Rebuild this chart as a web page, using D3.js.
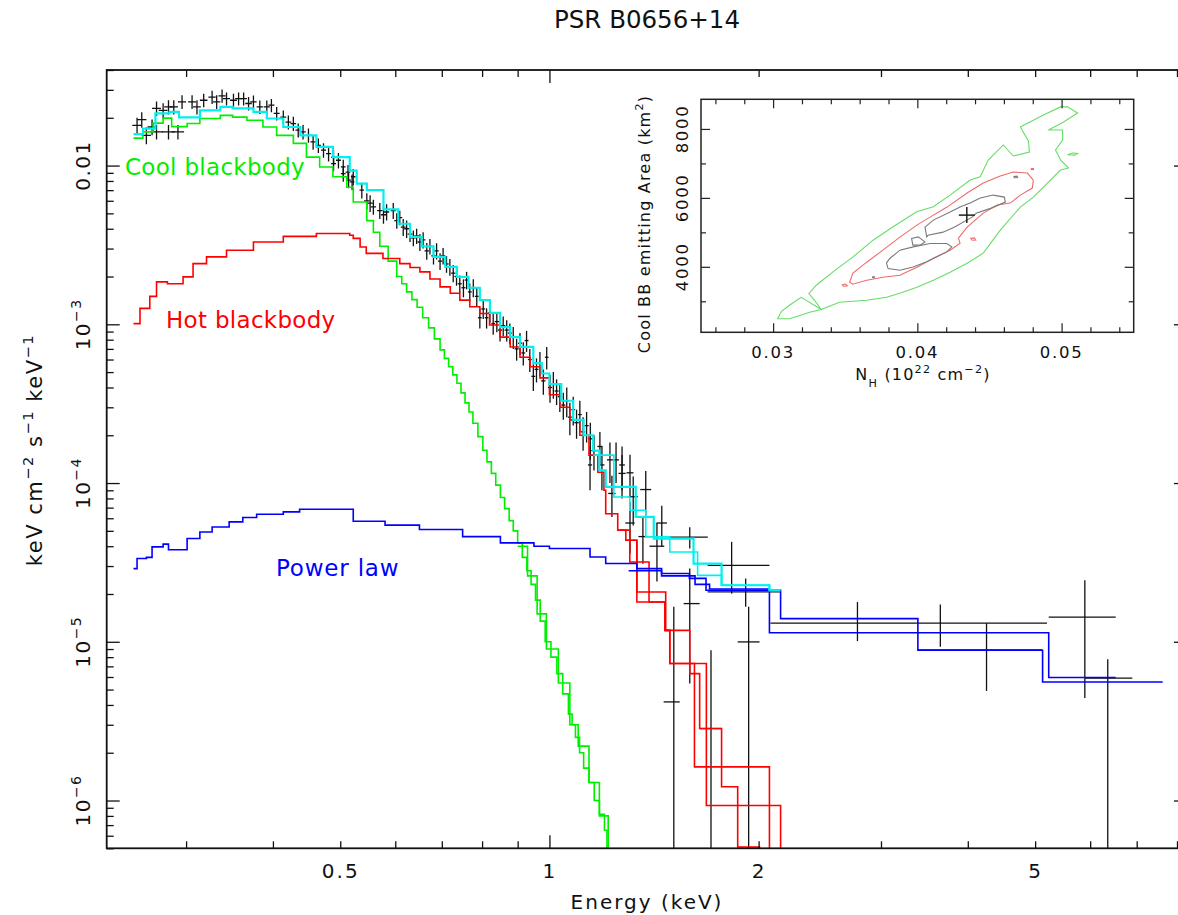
<!DOCTYPE html>
<html>
<head>
<meta charset="utf-8">
<script src="https://cdn.jsdelivr.net/npm/d3@7"></script>
<style>
  body { margin: 0; background: #fff; }
  svg { display: block; }
  text { font-family: "DejaVu Sans", sans-serif; fill: #111; }
</style>
</head>
<body>
<svg id="chart" width="1178" height="915"></svg>
<script>
// ---- spectrum: [energy keV, half width keV, flux, flux error]
const spectrum = [
  [0.255,0.004,0.0179,0.0021],[0.259,0.004,0.0195,0.0022],[0.263,0.004,0.0155,0.0019],
  [0.268,0.004,0.0175,0.0020],[0.272,0.004,0.0229,0.0024],[0.272,0.006,0.0163,0.0017],
  [0.278,0.004,0.0223,0.0024],[0.283,0.004,0.0234,0.0024],[0.283,0.006,0.0163,0.0017],
  [0.288,0.004,0.0234,0.0024],[0.292,0.006,0.0163,0.0017],[0.296,0.004,0.0252,0.0025],
  [0.306,0.004,0.0252,0.0025],[0.311,0.004,0.0234,0.0024],[0.318,0.004,0.0258,0.0025],
  [0.327,0.004,0.0270,0.0026],[0.332,0.004,0.0252,0.0025],[0.338,0.004,0.0275,0.0026],
  [0.343,0.004,0.0264,0.0025],[0.351,0.004,0.0258,0.0025],[0.357,0.004,0.0264,0.0025],
  [0.363,0.004,0.0264,0.0025],[0.369,0.004,0.0246,0.0024],[0.375,0.004,0.0252,0.0024],
  [0.383,0.004,0.0234,0.0023],[0.392,0.004,0.0234,0.0023],[0.398,0.004,0.0240,0.0023],
  [0.405,0.004,0.0213,0.0021],[0.414,0.004,0.0202,0.0020],[0.421,0.004,0.0188,0.0019],
  [0.428,0.004,0.0184,0.0019],[0.435,0.004,0.0167,0.0017],[0.442,0.004,0.0163,0.0017],
  [0.450,0.004,0.0155,0.0016],[0.457,0.004,0.0141,0.0015],[0.465,0.004,0.0134,0.0014],
  [0.473,0.004,0.0125,0.0013],[0.481,0.004,0.0119,0.0013],[0.489,0.004,0.0113,0.0012],
  [0.489,0.004,0.0103,0.0011],[0.497,0.004,0.0108,0.0012],[0.505,0.004,0.0098,0.0011],
  [0.505,0.004,0.0089,0.0010],[0.513,0.004,0.0091,0.0010],[0.514,0.004,0.0081,0.0009],
  [0.520,0.004,0.0079,0.0009],[0.522,0.004,0.0085,0.0010],[0.537,0.004,0.0070,0.0008],
  [0.546,0.005,0.0060,0.0007],[0.552,0.005,0.0058,0.0007],[0.558,0.005,0.0055,0.0006],
  [0.570,0.005,0.0052,0.0006],[0.577,0.005,0.0049,0.0006],[0.583,0.005,0.0051,0.0006],
  [0.596,0.005,0.0052,0.0006],[0.603,0.005,0.0045,0.0005],[0.609,0.005,0.0047,0.0005],
  [0.616,0.005,0.0041,0.0005],[0.623,0.005,0.0040,0.0005],[0.630,0.005,0.0037,0.0004],
  [0.637,0.005,0.0035,0.0004],[0.644,0.005,0.0036,0.0004],[0.651,0.005,0.0033,0.0004],
  [0.658,0.005,0.0034,0.0004],[0.666,0.005,0.0029,0.00035],[0.673,0.005,0.0031,0.00035],
  [0.681,0.005,0.0027,0.00032],[0.688,0.005,0.0029,0.00034],[0.696,0.005,0.0025,0.00030],
  [0.703,0.005,0.0027,0.00032],[0.711,0.005,0.0024,0.00029],[0.719,0.005,0.0023,0.00028],
  [0.727,0.005,0.0021,0.00026],[0.735,0.005,0.0020,0.00025],[0.743,0.005,0.0018,0.00023],
  [0.752,0.005,0.0017,0.00022],[0.760,0.005,0.0019,0.00024],[0.768,0.005,0.0016,0.00021],
  [0.777,0.005,0.0017,0.00022],[0.786,0.005,0.0015,0.00020],[0.794,0.005,0.0011,0.00016],
  [0.803,0.005,0.00125,0.00017],[0.812,0.005,0.0011,0.00016],[0.821,0.005,0.00118,0.00016],
  [0.830,0.005,0.00101,0.00015],[0.840,0.006,0.00104,0.00015],[0.849,0.006,0.00092,0.00014],
  [0.858,0.006,0.00098,0.00014],[0.868,0.006,0.00092,0.00014],[0.877,0.006,0.00088,0.00013],
  [0.887,0.006,0.00083,0.00013],[0.897,0.006,0.00070,0.00011],[0.907,0.006,0.00076,0.00012],
  [0.917,0.006,0.00066,0.00011],[0.927,0.006,0.00079,0.00012],[0.937,0.006,0.00060,0.00010],
  [0.948,0.006,0.00047,0.00009],[0.958,0.006,0.00052,0.00009],[0.969,0.006,0.00057,0.00010],
  [0.980,0.007,0.00044,0.00008],[0.991,0.006,0.00062,0.00010],[1.002,0.007,0.00040,0.00008],
  [1.013,0.007,0.00042,0.00008],[1.024,0.007,0.00038,0.00007],[1.035,0.007,0.00035,0.00007],
  [1.047,0.007,0.00031,0.00006],[1.059,0.007,0.00033,0.00007],[1.070,0.007,0.00026,0.00006],
  [1.082,0.007,0.00029,0.00006],[1.094,0.008,0.00024,0.00005],[1.106,0.007,0.00027,0.00006],
  [1.118,0.008,0.00021,0.00005],[1.131,0.008,0.00023,0.00005],[1.144,0.008,0.00013,0.00004],
  [1.145,0.008,0.00019,0.00005],[1.159,0.010,0.00016,0.00004],[1.182,0.010,0.00017,0.00004],
  [1.190,0.010,0.00013,0.00004],[1.222,0.012,0.00014,0.00004],[1.230,0.015,0.000086,0.000025],
  [1.247,0.012,0.00014,0.00004],[1.272,0.012,0.00013,0.00004],[1.272,0.015,0.000115,0.000035],
  [1.306,0.015,0.000116,0.000035],[1.306,0.020,0.000056,0.000020],[1.320,0.020,0.000082,0.000028],
  [1.363,0.020,0.000046,0.000015],[1.376,0.025,0.000091,0.000028],[1.428,0.035,0.000040,0.000016],
  [1.451,0.025,0.000056,0.000016]
];

// sparse hard-band bins: [energy, e low, e high, flux, flux low, flux high]  (0 = runs off the axis)
const hardBand = [
  [1.51, 1.46, 1.54, 4.18e-6, 0, 1.66e-5],
  [1.592, 1.49, 1.69, 4.57e-5, 3.87e-5, 5.26e-5],
  [1.592, 1.56, 1.645, 1.74e-5, 5.46e-6, 2.89e-5],
  [1.708, 1.645, 1.769, 2.84e-6, 0, 8.85e-6],
  [1.829, 1.689, 2.073, 3.03e-5, 2.01e-5, 4.26e-5],
  [1.916, 1.689, 2.152, 2.06e-5, 1.66e-5, 2.5e-5],
  [1.935, 1.866, 2.006, 9.98e-6, 0, 1.66e-5],
  [2.775, 2.08, 3.38, 1.31e-5, 1.01e-5, 1.78e-5],
  [3.652, 3.38, 5.20, 1.31e-5, 9.3e-6, 1.72e-5],
  [4.256, 3.39, 5.12, 8.9e-6, 4.9e-6, 1.31e-5],
  [5.895, 5.23, 6.53, 1.43e-5, 4.43e-6, 2.44e-5],
  [6.36, 5.9, 6.9, 5.9e-6, 0, 7.76e-6]
];

// model components, histogram steps: [bin start keV, flux]
const coolA = [[0.252,0.0149],[0.260,0.0163],[0.269,0.0185],[0.278,0.0199],[0.286,0.0176],[0.301,0.0184],
  [0.314,0.0198],[0.336,0.0207],[0.350,0.0202],[0.367,0.0193],[0.387,0.0175],[0.405,0.0155],[0.428,0.0138],
  [0.447,0.0113],[0.467,0.0098],[0.488,0.0085],[0.511,0.0073],[0.522,0.0059],[0.546,0.0045],[0.558,0.0038],
  [0.570,0.0031],[0.586,0.0025],[0.603,0.0020],[0.613,0.0018],[0.623,0.0016],[0.634,0.00143],[0.645,0.00128],
  [0.657,0.00110],[0.670,0.00095],[0.683,0.00081],[0.696,0.00069],[0.706,0.00061],[0.716,0.00054],
  [0.726,0.00048],[0.736,0.000425],[0.746,0.00037],[0.756,0.00032],[0.766,0.00028],[0.776,0.000238],
  [0.789,0.000196],[0.802,0.000161],[0.813,0.000136],[0.825,0.000115],[0.837,0.000097],[0.85,0.000081],
  [0.862,0.000069],[0.875,0.000058],[0.887,0.000050],[0.90,0.000042],[0.914,0.000034],[0.928,0.000028],
  [0.941,0.000023],[0.955,0.0000183],[0.970,0.0000135],[0.986,0.0000100],[1.005,0.0000080],[1.025,0.0000063],
  [1.045,0.0000047],[1.065,0.0000035],[1.078,0.0000030],[1.09,0.0000025],[1.105,0.0000020],[1.12,0.0000016],
  [1.14,0.0000013],[1.16,0.0000010],[1.18,0.00000082],[1.20,0.00000065],[1.21,0.0000003]];
const coolB = [[0.90,0.000040],[0.93,0.000026],[0.96,0.000015],[0.99,0.0000090],[1.03,0.0000055],
  [1.07,0.0000030],[1.10,0.0000022],[1.14,0.0000013],[1.18,0.0000008],[1.215,0.0000003]];

const hotA = [[0.252,0.00101],[0.2575,0.00126],[0.266,0.00150],[0.272,0.00185],[0.282,0.00180],[0.297,0.00199],
  [0.307,0.00241],[0.321,0.00266],[0.343,0.00293],[0.375,0.0033],[0.414,0.00358],[0.462,0.00373],[0.516,0.00364],
  [0.522,0.00348],[0.534,0.00307],[0.545,0.0028],[0.576,0.0026],[0.609,0.00241],[0.630,0.00228],[0.651,0.00214],
  [0.673,0.00193],[0.696,0.00172],[0.72,0.00157],[0.743,0.00142],[0.768,0.00129],[0.794,0.00117],[0.82,0.00099],
  [0.849,0.00083],[0.878,0.00072],[0.907,0.00062],[0.938,0.00054],[0.969,0.00046],[1.0,0.00036],[1.035,0.00030],
  [1.07,0.00025],[1.106,0.00020],[1.14,0.00015],[1.174,0.000117],[1.198,0.000090],[1.205,0.000064],
  [1.254,0.0000505],[1.288,0.0000436],[1.336,0.0000178],[1.466,0.0000118],[1.49,0.0000073],
  [1.682,0.00000093],[2.151,0.0000003]];
const hotB = [[1.263,0.0000505],[1.305,0.0000318],[1.391,0.0000206],[1.470,0.0000118],[1.592,0.0000063],
  [1.645,0.00000284],[1.769,0.00000122],[1.866,0.00000051],[2.006,0.0000003]];
const hotC = [[1.288,0.0000436],[1.336,0.0000206],[1.391,0.0000178],[1.466,0.0000118],[1.49,0.0000073],
  [1.617,0.00000163],[2.073,0.0000003]];

const powA = [[0.252,0.0000289],[0.255,0.0000335],[0.263,0.0000340],[0.268,0.0000396],[0.278,0.0000412],
  [0.283,0.0000380],[0.296,0.0000380],[0.301,0.0000447],[0.314,0.0000492],[0.327,0.0000529],[0.346,0.0000569],
  [0.362,0.0000606],[0.379,0.0000636],[0.414,0.0000658],[0.437,0.0000684],[0.522,0.0000575],[0.58,0.0000543],
  [0.65,0.0000510],[0.75,0.0000460],[0.85,0.0000420],[0.95,0.0000400],[1.0,0.0000387],[1.144,0.0000342],
  [1.205,0.0000311],[1.336,0.0000289],[1.45,0.0000269],[1.59,0.0000251],[1.68,0.0000211],[2.151,0.0000140],
  [3.39,0.00000885],[5.125,0.00000558],[7.63,0.00000558]];
const powB = [[1.30,0.0000280],[1.45,0.0000260],[1.62,0.0000230],[1.70,0.0000215],[2.073,0.0000114],
  [5.23,0.00000596],[6.53,0.00000596]];

const totA = [[0.252,0.0158],[0.260,0.0171],[0.271,0.0213],[0.284,0.0218],[0.293,0.0201],[0.314,0.0223],
  [0.336,0.0234],[0.350,0.0229],[0.375,0.0218],[0.392,0.0198],[0.414,0.0175],[0.438,0.0155],[0.462,0.0131],
  [0.488,0.0113],[0.516,0.0093],[0.528,0.0077],[0.546,0.0070],[0.577,0.0053],[0.606,0.0043],[0.630,0.00355],
  [0.655,0.0031],[0.681,0.00266],[0.708,0.0023],[0.736,0.00199],[0.765,0.0017],[0.794,0.00142],[0.821,0.00118],
  [0.849,0.00096],[0.878,0.00083],[0.907,0.00072],[0.948,0.00057],[0.975,0.00049],[1.000,0.00042],
  [1.040,0.00033],[1.082,0.00025],[1.120,0.00020],[1.156,0.00016],[1.180,0.00012],[1.205,0.0000945],
  [1.331,0.0000612],[1.413,0.0000447],[1.612,0.0000311],[1.769,0.0000227],[2.073,0.0000211],[2.151,0.0000211]];
const totB = [[1.156,0.00015],[1.238,0.0000817],[1.305,0.0000674],[1.376,0.0000458],[1.490,0.0000368],
  [1.634,0.0000262],[1.769,0.0000227],[2.073,0.0000211]];

// axis labels
const energyLabels = [0.5, 1, 2, 5];
const fluxLabelValues = [1e-2, 1e-3, 1e-4, 1e-5, 1e-6];
const fluxLabelText = ["0.01", "10", "10", "10", "10"];
const fluxLabelExp = ["", "\u22123", "\u22124", "\u22125", "\u22126"];

// ---- inset: confidence contours [NH 1e22 cm^-2, area km^2]
const outerContour = [
  [[0.03248,3224],[0.03299,3465],[0.03415,3852],[0.03554,4288],[0.03693,4773],[0.03832,5160],[0.03995,5596],
   [0.04111,5741],[0.04227,6081],[0.04366,6517],[0.04436,6613],[0.04491,7099],[0.04596,7535],[0.04665,7215],
   [0.04777,7331],[0.04770,7651],[0.04714,8058],[0.04874,8407],[0.04993,8640],[0.05041,8640],[0.05111,8465],
   [0.05014,8203],[0.04909,7971],[0.05007,7971],[0.05007,7680],[0.04958,7390],[0.04993,7099],[0.05048,6866],
   [0.04993,6808],[0.04902,6430],[0.04804,6023],[0.04714,5733],[0.04575,5064],[0.04457,4395],[0.04345,4105],
   [0.04227,3843],[0.04111,3611],[0.03997,3407],[0.03879,3233],[0.03786,3116],[0.03649,3029],[0.03461,2971],
   [0.03371,2826],[0.03334,2759],[0.03287,3029]],
  [[0.03032,2497],[0.03058,2709],[0.03113,2884],[0.03195,3116],[0.03334,2759],[0.03253,2680],[0.03190,2593],
   [0.03113,2491]],
  [[0.05041,7250],[0.05076,7300],[0.05111,7290],[0.05090,7240]]
];
const midContour = [
  [[0.03531,3552],[0.03552,3814],[0.03649,4134],[0.03761,4483],[0.03879,4860],[0.03997,5209],[0.04088,5442],
   [0.04206,5733],[0.04345,6140],[0.04457,6430],[0.04575,6634],[0.04665,6750],[0.04763,6721],[0.04804,6517],
   [0.04797,6285],[0.04714,6081],[0.04644,5849],[0.04554,5791],[0.04457,5558],[0.04345,5151],[0.04285,4831],
   [0.04296,4686],[0.04227,4483],[0.04111,4250],[0.03997,3988],[0.03879,3756],[0.03761,3698],[0.03649,3611],
   [0.03552,3494]],
  [[0.03480,3480],[0.03500,3500],[0.03515,3450],[0.03490,3430]],
  [[0.04370,4830],[0.04395,4840],[0.04405,4780],[0.04380,4770]],
  [[0.04790,6850],[0.04805,6850],[0.04805,6820],[0.04790,6820]]
];
const innerContour = [
  [[0.04065,4869],[0.04053,5151],[0.04111,5355],[0.04227,5587],[0.04296,5733],[0.04366,5849],[0.04436,5994],
   [0.04526,6081],[0.04603,6023],[0.04610,5878],[0.04512,5703],[0.04408,5558],[0.04380,5442],[0.04255,5151],
   [0.04178,5006],[0.04074,4919]],
  [[0.03786,4114],[0.03809,4241],[0.03879,4483],[0.03971,4578],[0.04088,4677],[0.04204,4677],[0.04239,4578],
   [0.04204,4433],[0.04065,4144],[0.03971,3997],[0.03879,3901],[0.03797,3950]],
  [[0.03960,4823],[0.04006,4869],[0.04053,4724],[0.04018,4628],[0.03969,4628]],
  [[0.04670,6620],[0.04690,6630],[0.04695,6590],[0.04672,6585]],
  [[0.03690,3710],[0.03702,3710],[0.03702,3690],[0.03690,3690]]
];
const bestFit = [0.04343, 5500];
const insetXLabels = [0.03, 0.04, 0.05];
const insetYLabels = [4000, 6000, 8000];

// ---- layout
const svg = d3.select("#chart");
const pL = 106.7, pR = 1187, pT = 70, pB = 848.3;

const x = d3.scaleLog().domain([0.2306, 8.27]).range([pL, pR]);
const y = d3.scaleLog().domain([5e-7, 0.04]).range([pB, pT]);
const floorY = v => y(Math.max(v, 1e-9));

svg.append("defs").append("clipPath").attr("id", "plotclip")
  .append("rect").attr("x", pL).attr("y", pT).attr("width", pR - pL).attr("height", pB - pT);

// superscript / subscript helper
function richText(sel, parts, size) {
  let cur = 0;
  parts.forEach(([t, s]) => {
    const target = s * size * 0.45;
    sel.append("tspan").attr("dy", -(target - cur)).attr("font-size", s ? size * 0.7 : size).text(t);
    cur = target;
  });
}

// title
svg.append("text").attr("x", 647).attr("y", 28).attr("text-anchor", "middle")
  .attr("font-size", 24.5).text("PSR B0656+14");

const plot = svg.append("g").attr("clip-path", "url(#plotclip)");

// data crosses
const dataG = plot.append("g").attr("stroke", "#111").attr("stroke-width", 1.3);
spectrum.forEach(d => {
  const [e, de, f, df] = d;
  dataG.append("line").attr("x1", x(e)).attr("x2", x(e)).attr("y1", floorY(f - df)).attr("y2", y(f + df));
  dataG.append("line").attr("x1", x(e - de)).attr("x2", x(e + de)).attr("y1", y(f)).attr("y2", y(f));
});
hardBand.forEach(d => {
  const [e, elo, ehi, f, flo, fhi] = d;
  dataG.append("line").attr("x1", x(e)).attr("x2", x(e)).attr("y1", floorY(flo)).attr("y2", y(fhi));
  dataG.append("line").attr("x1", x(elo)).attr("x2", x(ehi)).attr("y1", y(f)).attr("y2", y(f));
});

// model steps
const step = d3.line().x(d => x(d[0])).y(d => floorY(d[1])).curve(d3.curveStepAfter);
const models = [
  {d: coolA, c: "#00ee00", w: 1.6}, {d: coolB, c: "#00ee00", w: 1.6},
  {d: hotA, c: "#ff0000", w: 1.6}, {d: hotB, c: "#ff0000", w: 1.6}, {d: hotC, c: "#ff0000", w: 1.6},
  {d: powA, c: "#0000ff", w: 1.6}, {d: powB, c: "#0000ff", w: 1.6},
  {d: totA, c: "#00f0f0", w: 2.2}, {d: totB, c: "#00f0f0", w: 1.6}
];
models.forEach(m => {
  plot.append("path").attr("d", step(m.d)).attr("fill", "none")
    .attr("stroke", m.c).attr("stroke-width", m.w);
});

// component labels
svg.append("text").attr("x", 125).attr("y", 175).attr("font-size", 23).attr("letter-spacing", 0.3)
  .style("fill", "#00ee00").text("Cool blackbody");
svg.append("text").attr("x", 166).attr("y", 328).attr("font-size", 23).attr("letter-spacing", 0.3)
  .style("fill", "#ff0000").text("Hot blackbody");
svg.append("text").attr("x", 276).attr("y", 576).attr("font-size", 23).attr("letter-spacing", 0.8)
  .style("fill", "#0000ff").text("Power law");

// main axes
const isDecade = v => Math.abs(Math.log10(v) - Math.round(Math.log10(v))) <= 1e-6;
const xMinor = x.ticks().filter(v => !isDecade(v));
const xMajor = x.ticks().filter(isDecade);
const yMinor = y.ticks().filter(v => !isDecade(v));
const yMajor = y.ticks().filter(isDecade);

function tickAxis(axis, values, size, transform) {
  svg.append("g").attr("transform", transform)
    .call(axis.tickValues(values).tickSize(-size).tickSizeOuter(0).tickFormat(""))
    .call(g => g.select(".domain").remove())
    .call(g => g.selectAll("line").attr("stroke", "#111").attr("stroke-width", 1.3));
}
tickAxis(d3.axisBottom(x), xMinor, 7, `translate(0,${pB})`);
tickAxis(d3.axisBottom(x), xMajor, 13, `translate(0,${pB})`);
tickAxis(d3.axisTop(x), xMinor, 7, `translate(0,${pT})`);
tickAxis(d3.axisTop(x), xMajor, 13, `translate(0,${pT})`);
tickAxis(d3.axisLeft(y), yMinor, 7, `translate(${pL},0)`);
tickAxis(d3.axisLeft(y), yMajor, 13, `translate(${pL},0)`);
tickAxis(d3.axisRight(y), yMinor, 7, `translate(${pR},0)`);
tickAxis(d3.axisRight(y), yMajor, 13, `translate(${pR},0)`);

svg.append("rect").attr("x", pL).attr("y", pT).attr("width", pR - pL).attr("height", pB - pT)
  .attr("fill", "none").attr("stroke", "#111").attr("stroke-width", 1.8);

// x tick labels
svg.append("g").attr("transform", `translate(0,${pB})`)
  .call(d3.axisBottom(x).tickValues(energyLabels).tickSize(0).tickPadding(15.5).tickFormat(d => d))
  .call(g => g.select(".domain").remove())
  .call(g => g.selectAll("text").attr("font-size", 20).attr("font-family", "DejaVu Sans")
    .attr("letter-spacing", 2).style("fill", "#111"));

// y tick labels (rotated)
fluxLabelValues.forEach((v, i) => {
  const t = svg.append("text").attr("text-anchor", "middle").attr("font-size", 20).attr("letter-spacing", 1.5)
    .attr("transform", `translate(90,${y(v)}) rotate(-90)`);
  richText(t, fluxLabelExp[i] ? [[fluxLabelText[i], 0], [fluxLabelExp[i], 1]] : [[fluxLabelText[i], 0]], 20);
});

// axis titles
svg.append("text").attr("x", 647).attr("y", 909).attr("text-anchor", "middle")
  .attr("font-size", 20).attr("letter-spacing", 2).text("Energy (keV)");
const yTitle = svg.append("text").attr("text-anchor", "middle").attr("font-size", 21).attr("letter-spacing", 1.5)
  .attr("transform", "translate(42,450) rotate(-90)");
richText(yTitle, [["keV cm", 0], ["\u22122", 1], [" s", 0], ["\u22121", 1], [" keV", 0], ["\u22121", 1]], 21);

// ---- inset
const il = 701, ir = 1133.7, it = 99.3, ib = 332.3;
const xi = d3.scaleLinear().domain([0.025, 0.055]).range([il, ir]);
const yi = d3.scaleLinear().domain([2100, 8860]).range([ib, it]);

svg.append("rect").attr("x", il).attr("y", it).attr("width", ir - il).attr("height", ib - it).attr("fill", "#fff");

const ring = d3.line().x(d => xi(d[0])).y(d => yi(d[1])).curve(d3.curveLinearClosed);
[[outerContour, "#66dd66"], [midContour, "#f06a6a"], [innerContour, "#7a7a7a"]].forEach(([polys, c]) => {
  polys.forEach(p => svg.append("path").attr("d", ring(p)).attr("fill", "none")
    .attr("stroke", c).attr("stroke-width", 1.1));
});
svg.append("g").attr("stroke", "#111").attr("stroke-width", 1.4).call(g => {
  g.append("line").attr("x1", xi(bestFit[0]) - 8).attr("x2", xi(bestFit[0]) + 8)
    .attr("y1", yi(bestFit[1])).attr("y2", yi(bestFit[1]));
  g.append("line").attr("x1", xi(bestFit[0])).attr("x2", xi(bestFit[0]))
    .attr("y1", yi(bestFit[1]) - 8).attr("y2", yi(bestFit[1]) + 8);
});

const xiMinor = xi.ticks(15).filter(v => Math.abs(v * 100 - Math.round(v * 100)) > 1e-6);
const yiMinor = yi.ticks(6).filter(v => v % 2000 !== 0);
function insetTicks(axis, values, size, transform) {
  svg.append("g").attr("transform", transform)
    .call(axis.tickValues(values).tickSize(-size).tickSizeOuter(0).tickFormat(""))
    .call(g => g.select(".domain").remove())
    .call(g => g.selectAll("line").attr("stroke", "#222").attr("stroke-width", 1.2));
}
insetTicks(d3.axisBottom(xi), xiMinor, 5, `translate(0,${ib})`);
insetTicks(d3.axisBottom(xi), insetXLabels, 9, `translate(0,${ib})`);
insetTicks(d3.axisTop(xi), xiMinor, 5, `translate(0,${it})`);
insetTicks(d3.axisTop(xi), insetXLabels, 9, `translate(0,${it})`);
insetTicks(d3.axisLeft(yi), yiMinor, 5, `translate(${il},0)`);
insetTicks(d3.axisLeft(yi), insetYLabels, 9, `translate(${il},0)`);
insetTicks(d3.axisRight(yi), yiMinor, 5, `translate(${ir},0)`);
insetTicks(d3.axisRight(yi), insetYLabels, 9, `translate(${ir},0)`);

svg.append("rect").attr("x", il).attr("y", it).attr("width", ir - il).attr("height", ib - it)
  .attr("fill", "none").attr("stroke", "#222").attr("stroke-width", 1.5);

insetXLabels.forEach(v => {
  svg.append("text").attr("x", xi(v)).attr("y", 358.3).attr("text-anchor", "middle")
    .attr("font-size", 16.5).attr("letter-spacing", 1.7).text(d3.format(".2f")(v));
});
insetYLabels.forEach(v => {
  svg.append("text").attr("text-anchor", "middle").attr("font-size", 16.5).attr("letter-spacing", 1.7)
    .attr("transform", `translate(688,${yi(v)}) rotate(-90)`).text(v);
});
const nhTitle = svg.append("text").attr("x", 923).attr("y", 380).attr("text-anchor", "middle")
  .attr("font-size", 16).attr("letter-spacing", 1.2);
richText(nhTitle, [["N", 0], ["H", -1], [" (10", 0], ["22", 1], [" cm", 0], ["\u22122", 1], [")", 0]], 16);
const areaTitle = svg.append("text").attr("text-anchor", "middle").attr("font-size", 16).attr("letter-spacing", 1.2)
  .attr("transform", "translate(650,224) rotate(-90)");
richText(areaTitle, [["Cool BB emitting Area (km", 0], ["2", 1], [")", 0]], 16);
</script>
</body>
</html>
